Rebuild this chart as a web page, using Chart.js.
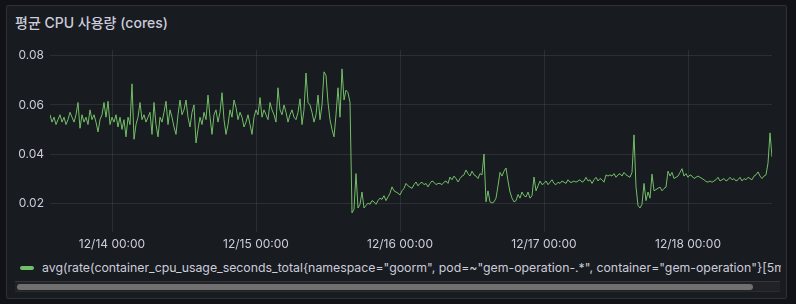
<!DOCTYPE html>
<html>
<head>
<meta charset="utf-8">
<script src="https://cdn.jsdelivr.net/npm/chart.js@4/dist/chart.umd.min.js"></script>
<style>
  html, body { margin: 0; padding: 0; background: #111217; }
  body { width: 796px; height: 304px; position: relative; overflow: hidden;
         font-family: Inter, "Noto Sans CJK KR", "DejaVu Sans", sans-serif; }
  #panel { position: absolute; left: 6px; top: 5px; width: 781px; height: 294px;
           background: #181b1f; border: 1px solid rgba(204,204,220,0.12); border-radius: 2px; box-sizing: border-box; }
  #title { position: absolute; left: 15px; top: 12px; font-size: 14px; font-weight: 500; color: #ccccdc; white-space: nowrap; }
  #chartWrap { position: absolute; left: 0; top: 0; }
  #legend { position: absolute; left: 15px; top: 259px; width: 766px; height: 18px; overflow: hidden; white-space: nowrap;
            font-size: 12.3px; color: #ccccdc; line-height: 18px; }
  #legend .mark { display: inline-block; width: 14px; height: 4px; border-radius: 2px; background: #73BF69;
                  vertical-align: middle; margin: 0 8px 2px 5px; }
  #track { position: absolute; left: 15px; top: 281px; width: 765px; height: 11px; background: #202226;
           border-top: 1px solid #34363b; border-bottom: 1px solid #2a2c30; box-sizing: border-box; }
  #thumb { position: absolute; left: 17px; top: 284px; width: 736px; height: 6px; background: #707070; border-radius: 3px; }
</style>
</head>
<body>
<div id="panel"></div>
<div id="title">평균 CPU 사용량 (cores)</div>
<div id="chartWrap"><canvas id="c" width="796" height="254"></canvas></div>
<div id="legend"><span class="mark"></span>avg(rate(container_cpu_usage_seconds_total{namespace="goorm", pod=~"gem-operation-.*", container="gem-operation"}[5m]))</div>
<div id="track"></div>
<div id="thumb"></div>
<script>
// Time axis: hours relative to 12/14 00:00
const seriesStartHour = -10 - 20 / 60;   // 12/13 13:40
const seriesStepHours = 20 / 60;         // 20 minute samples
const seriesName = 'avg(rate(container_cpu_usage_seconds_total{namespace="goorm", pod=~"gem-operation-.*", container="gem-operation"}[5m]))';

const xTickHours = [0, 24, 48, 72, 96];
const xTickLabels = ['12/14 00:00', '12/15 00:00', '12/16 00:00', '12/17 00:00', '12/18 00:00'];
const yTickValues = [0.02, 0.04, 0.06, 0.08];
const yTickLabels = ['0.02', '0.04', '0.06', '0.08'];

const cpuCores = [
  // 12/13 afternoon
  0.056, 0.053, 0.055, 0.052, 0.054, 0.056, 0.053, 0.055, 0.052, 0.054,
  0.057, 0.055, 0.053, 0.056, 0.061, 0.0505, 0.056, 0.053, 0.055, 0.052,
  0.058, 0.054, 0.056, 0.053, 0.049, 0.054, 0.056, 0.061, 0.055, 0.0615,
  0.052, 0.055,
  // 12/14
  0.053, 0.056, 0.051, 0.055, 0.050, 0.054, 0.047, 0.055, 0.052, 0.0686,
  0.046, 0.052, 0.055, 0.061, 0.054, 0.056, 0.053, 0.055, 0.057, 0.048,
  0.061, 0.052, 0.047, 0.055, 0.053, 0.057, 0.0615, 0.052, 0.058, 0.055,
  0.051, 0.048, 0.056, 0.062, 0.056, 0.058, 0.062, 0.055, 0.051, 0.057,
  0.060, 0.0445,
  0.050, 0.055, 0.052, 0.057, 0.054, 0.064, 0.055, 0.048, 0.056, 0.058,
  0.053, 0.057, 0.065, 0.054, 0.048, 0.052, 0.058, 0.055, 0.062, 0.059,
  0.054, 0.057, 0.055, 0.051, 0.053, 0.056, 0.052, 0.048, 0.055, 0.058,
  0.056, 0.063, 0.055, 0.058, 0.056, 0.054, 0.061, 0.058, 0.056, 0.053,
  0.067, 0.058, 0.056, 0.060, 0.057, 0.053, 0.056, 0.058, 0.055, 0.054,
  0.057, 0.0625, 0.052, 0.058, 0.073, 0.061, 0.060, 0.057, 0.053, 0.056,
  0.064, 0.054, 0.060, 0.0735, 0.072, 0.061, 0.054, 0.050, 0.047, 0.056,
  0.067, 0.055, 0.0747, 0.062, 0.066, 0.065, 0.061,
  // drop on 12/15 evening
  0.016, 0.0175, 0.032, 0.018, 0.0195, 0.0245, 0.018, 0.019, 0.020, 0.0195,
  0.021, 0.0205, 0.0195, 0.021, 0.022, 0.0215, 0.023, 0.021, 0.0225, 0.024,
  0.0266, 0.025, 0.0245, 0.024, 0.0233, 0.025, 0.026, 0.028, 0.027, 0.0265,
  0.026, 0.0275, 0.0286, 0.027, 0.028, 0.0285, 0.0275, 0.028, 0.0266, 0.028,
  0.029, 0.0285, 0.0275, 0.028, 0.028, 0.0275, 0.0285, 0.029, 0.028, 0.0306,
  0.0295, 0.031, 0.030, 0.0286, 0.030, 0.031, 0.0315, 0.0335, 0.032, 0.031,
  0.033, 0.0315, 0.031, 0.030, 0.032, 0.0315, 0.040,
  // 12/16 afternoon onwards
  0.0205, 0.025, 0.0205, 0.020, 0.0205, 0.022, 0.027, 0.0325, 0.031, 0.033,
  0.0343, 0.029, 0.0245, 0.022, 0.0205, 0.021, 0.0235, 0.022, 0.0245, 0.023,
  0.0225, 0.0245, 0.022, 0.023, 0.0306, 0.025, 0.027, 0.029, 0.0275, 0.028,
  0.029, 0.0275, 0.0285, 0.0295, 0.028, 0.0275, 0.0285, 0.028, 0.029, 0.0285,
  0.028, 0.0295, 0.0285, 0.0285, 0.029, 0.0285, 0.029, 0.0295, 0.0285, 0.029,
  0.0305, 0.029, 0.0295, 0.028, 0.0295, 0.0305, 0.029, 0.030, 0.0295, 0.0285,
  0.0315, 0.031, 0.0315, 0.031, 0.032, 0.0305, 0.0315, 0.032, 0.031, 0.0325,
  0.0315, 0.031, 0.0305, 0.0325,
  // 12/17 afternoon spike and after
  0.0478, 0.0266, 0.019, 0.018, 0.0195, 0.028, 0.021, 0.0245, 0.022, 0.0318,
  0.025, 0.0255, 0.026, 0.0265, 0.025, 0.026, 0.0265, 0.033, 0.031, 0.0325,
  0.030, 0.0305, 0.031, 0.0325, 0.034, 0.031, 0.032, 0.0305, 0.0315, 0.031,
  0.030, 0.0305, 0.031, 0.0305, 0.030, 0.0295, 0.0288, 0.0285, 0.029, 0.0285,
  0.029, 0.0295, 0.0305, 0.029, 0.0295, 0.030, 0.029, 0.0295, 0.0305, 0.0295,
  0.030, 0.029, 0.0295, 0.0305, 0.029, 0.030, 0.0295, 0.0305, 0.030, 0.0295,
  0.031, 0.0315, 0.0327, 0.031, 0.030, 0.031, 0.0315, 0.0363, 0.0486, 0.0388
];

const points = cpuCores.map((v, i) => ({ x: seriesStartHour + i * seriesStepHours, y: v }));
const xMin = seriesStartHour;
const xMax = seriesStartHour + (cpuCores.length - 1) * seriesStepHours;

const textColor = '#ccccdc';
const gridColor = 'rgba(204,204,220,0.11)';
const fontFamily = 'Inter, "Noto Sans CJK KR", sans-serif';

new Chart(document.getElementById('c'), {
  type: 'line',
  data: {
    datasets: [{
      label: seriesName,
      data: points,
      borderColor: '#73BF69',
      borderWidth: 1,
      pointRadius: 0,
      tension: 0,
      fill: false
    }]
  },
  options: {
    responsive: false,
    animation: false,
    devicePixelRatio: 1,
    layout: { padding: { left: 0, right: 24, top: 50, bottom: 0 } },
    plugins: { legend: { display: false }, tooltip: { enabled: false } },
    scales: {
      x: {
        type: 'linear',
        min: xMin,
        max: xMax,
        border: { display: false },
        grid: { color: gridColor, drawTicks: false, lineWidth: 1 },
        afterBuildTicks: (s) => { s.ticks = xTickHours.map(v => ({ value: v })); },
        afterFit: (s) => { s.height = 22; },
        ticks: {
          color: textColor,
          font: { family: fontFamily, size: 12 },
          padding: 5,
          maxRotation: 0,
          autoSkip: false,
          callback: (v) => { const k = xTickHours.indexOf(v); return k >= 0 ? xTickLabels[k] : ''; }
        }
      },
      y: {
        type: 'linear',
        min: 0.0082,
        max: 0.0824,
        border: { display: false },
        grid: { color: gridColor, drawTicks: false, lineWidth: 1 },
        afterBuildTicks: (s) => { s.ticks = yTickValues.map(v => ({ value: v })); },
        afterFit: (s) => { s.width = 50; },
        ticks: {
          color: textColor,
          font: { family: fontFamily, size: 12 },
          padding: 6,
          callback: (v) => { const k = yTickValues.indexOf(v); return k >= 0 ? yTickLabels[k] : ''; }
        }
      }
    }
  }
});
</script>
</body>
</html>
